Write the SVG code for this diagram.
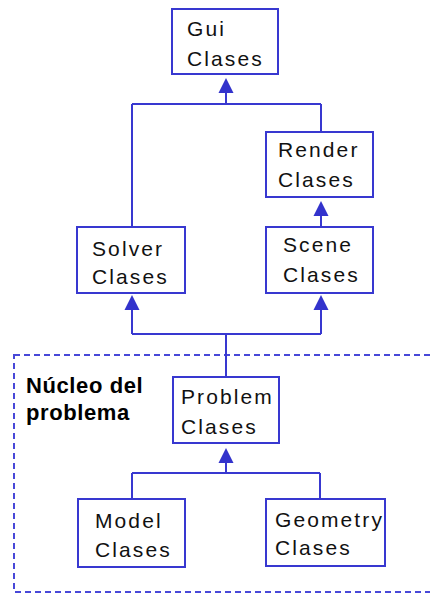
<svg xmlns="http://www.w3.org/2000/svg" width="430" height="593" viewBox="0 0 430 593">
  <style>
    .box { fill: #ffffff; stroke: #3838d0; stroke-width: 2; }
    .wire { fill: none; stroke: #3838d0; stroke-width: 2; }
    .head { fill: #3333cc; stroke: none; }
    .lbl { font-family: "Liberation Sans", Arial, sans-serif; font-size: 21px; letter-spacing: 2.1px; fill: #111111; }
    .pkg { fill: none; stroke: #4848d8; stroke-width: 2; stroke-dasharray: 6 4; }
    .pkgname { font-family: "Liberation Sans", Arial, sans-serif; font-size: 22px; font-weight: bold; letter-spacing: 0.6px; fill: #000000; }
  </style>
  <defs>
    <!-- filled inheritance head, tip at origin pointing up -->
    <path id="tri" d="M0,0 L7.5,15 L-7.5,15 Z"/>
  </defs>
  <rect width="430" height="593" fill="#ffffff"/>

  <!-- package frame -->
  <g id="nucleo">
    <rect class="pkg" x="14" y="355" width="430" height="237"/>
    <text class="pkgname" x="26" y="393">Núcleo del</text>
    <text class="pkgname" x="26" y="420">problema</text>
  </g>

  <g id="connectors">
    <!-- Solver / Render to Gui -->
    <path class="wire" d="M226,92 V104 M132,104 H321 M132,104 V227 M321,104 V132"/>
    <use href="#tri" class="head" x="226" y="78"/>
    <!-- Scene to Render -->
    <path class="wire" d="M321,215 V227"/>
    <use href="#tri" class="head" x="321" y="201"/>
    <!-- Problem to Solver / Scene -->
    <path class="wire" d="M132,309 V334 M321,309 V334 M132,334 H321 M226,334 V377"/>
    <use href="#tri" class="head" x="132" y="295"/>
    <use href="#tri" class="head" x="321" y="295"/>
    <!-- Model / Geometry to Problem -->
    <path class="wire" d="M226,462 V473 M132,473 H320 M132,473 V499 M320,473 V499"/>
    <use href="#tri" class="head" x="226" y="448"/>
  </g>

  <g id="gui">
    <rect class="box" x="172" y="9" width="106" height="65"/>
    <text class="lbl" x="187" y="36">Gui</text>
    <text class="lbl" x="187" y="66">Clases</text>
  </g>

  <g id="render">
    <rect class="box" x="266" y="132" width="107" height="65"/>
    <text class="lbl" x="278" y="157">Render</text>
    <text class="lbl" x="278" y="187">Clases</text>
  </g>

  <g id="solver">
    <rect class="box" x="77" y="227" width="108" height="66"/>
    <text class="lbl" x="92" y="256">Solver</text>
    <text class="lbl" x="92" y="284">Clases</text>
  </g>

  <g id="scene">
    <rect class="box" x="266" y="227" width="107" height="66"/>
    <text class="lbl" x="283" y="252">Scene</text>
    <text class="lbl" x="283" y="282">Clases</text>
  </g>

  <g id="problem">
    <rect class="box" x="173" y="377" width="106" height="66"/>
    <text class="lbl" x="181" y="404">Problem</text>
    <text class="lbl" x="181" y="434">Clases</text>
  </g>

  <g id="model">
    <rect class="box" x="78" y="499" width="107" height="68"/>
    <text class="lbl" x="95" y="528">Model</text>
    <text class="lbl" x="95" y="557">Clases</text>
  </g>

  <g id="geometry">
    <rect class="box" x="266" y="499" width="119" height="67"/>
    <text class="lbl" x="275" y="527">Geometry</text>
    <text class="lbl" x="275" y="555">Clases</text>
  </g>
</svg>
